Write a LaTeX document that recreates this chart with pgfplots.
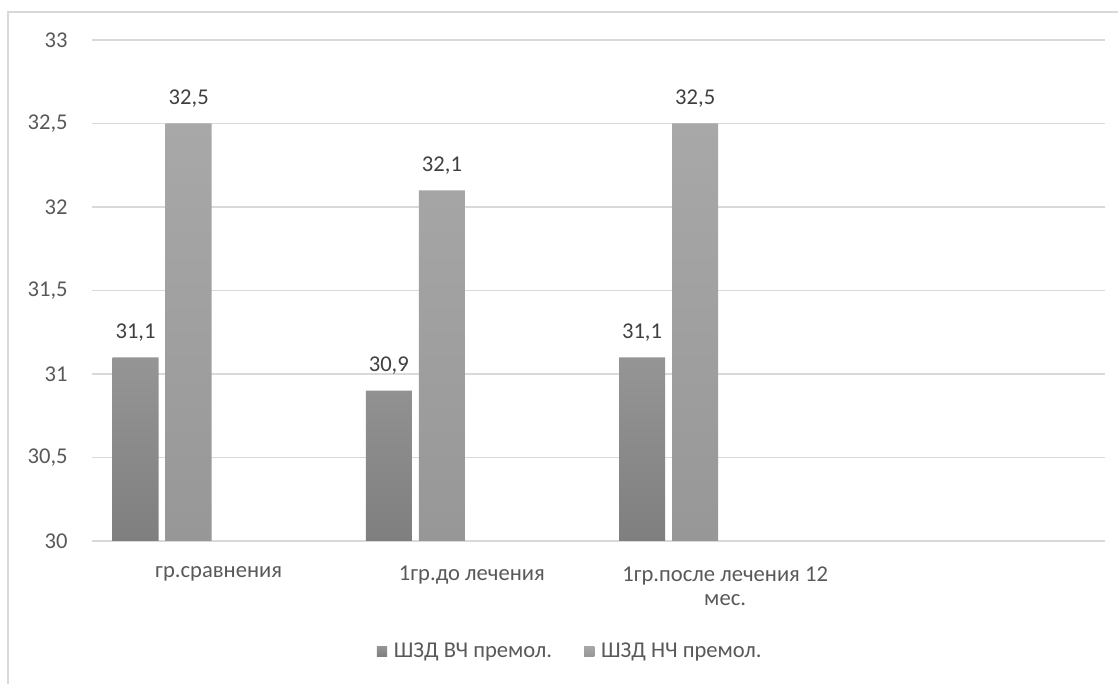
\documentclass[border=0pt]{standalone}
\usepackage{pgfplots}
\pgfplotsset{compat=1.18}
\usepackage{fontspec}
\setmainfont{Carlito}
\definecolor{gridc}{HTML}{D9D9D9}
\definecolor{txt}{HTML}{595959}
\definecolor{lbl}{HTML}{404040}
\definecolor{aTop}{HTML}{959595}
\definecolor{aBot}{HTML}{7F7F7F}
\definecolor{bTop}{HTML}{A8A8A8}
\definecolor{bBot}{HTML}{979797}
\newcommand{\cf}{\fontsize{11.3}{12.4}\selectfont}
\begin{document}
\begin{tikzpicture}
\useasboundingbox (0,0) rectangle (559pt,342pt);
\draw[gridc, line width=0.8pt] (4pt,-10pt) -- (4pt,336pt) -- (570pt,336pt);
\begin{axis}[
  at={(46pt,71.5pt)}, anchor=south west, scale only axis,
  width=506.5pt, height=250.5pt,
  xmin=-0.5, xmax=3.5, ymin=30, ymax=33,
  ytick={30,30.5,31,31.5,32,32.5,33},
  xtick={0,1,2,3},
  xticklabels={гр.сравнения,1гр.до лечения,{1гр.после лечения 12\\мес.},{}},
  /pgf/number format/assume math mode=true,
  yticklabel style={/pgf/number format/use comma, /pgf/number format/fixed, /pgf/number format/precision=1},
  yticklabel style={font=\cf, text=txt, anchor=east, inner sep=0pt, xshift=-12pt},
  xticklabel style={font=\cf, text=txt, align=center, anchor=north, inner sep=0pt, yshift=-12.5pt},
  major tick length=0pt,
  axis line style={draw=none},
  ymajorgrids, grid style={gridc, line width=0.8pt},
  ybar, bar width=0.1816,
  nodes near coords={\pgfmathprintnumber[use comma,fixed,fixed zerofill,precision=1]{\pgfplotspointmeta}},
  every node near coord/.append style={font=\cf, text=lbl, inner sep=0pt, yshift=8pt},
  legend style={at={(0.473,-0.2216)}, anchor=center, legend columns=2, draw=none, fill=none, font=\cf, text=txt,
    /tikz/every even column/.append style={column sep=14pt}},
  clip=false,
]
\addplot[draw=none, top color=aTop, bottom color=aBot, bar shift=-0.328,
  legend image code/.code={\fill[aBot] (0pt,-2.2pt) rectangle (5.2pt,3.0pt); \path (6.5pt,0pt);}]
  coordinates {(0,31.1) (1,30.9) (2,31.1)};
\addplot[draw=none, top color=bTop, bottom color=bBot, bar shift=-0.118,
  legend image code/.code={\fill[bTop] (0pt,-2.2pt) rectangle (5.2pt,3.0pt); \path (6.5pt,0pt);}]
  coordinates {(0,32.5) (1,32.1) (2,32.5)};
\legend{ШЗД ВЧ премол., ШЗД НЧ премол.}
\end{axis}
\end{tikzpicture}
\end{document}
